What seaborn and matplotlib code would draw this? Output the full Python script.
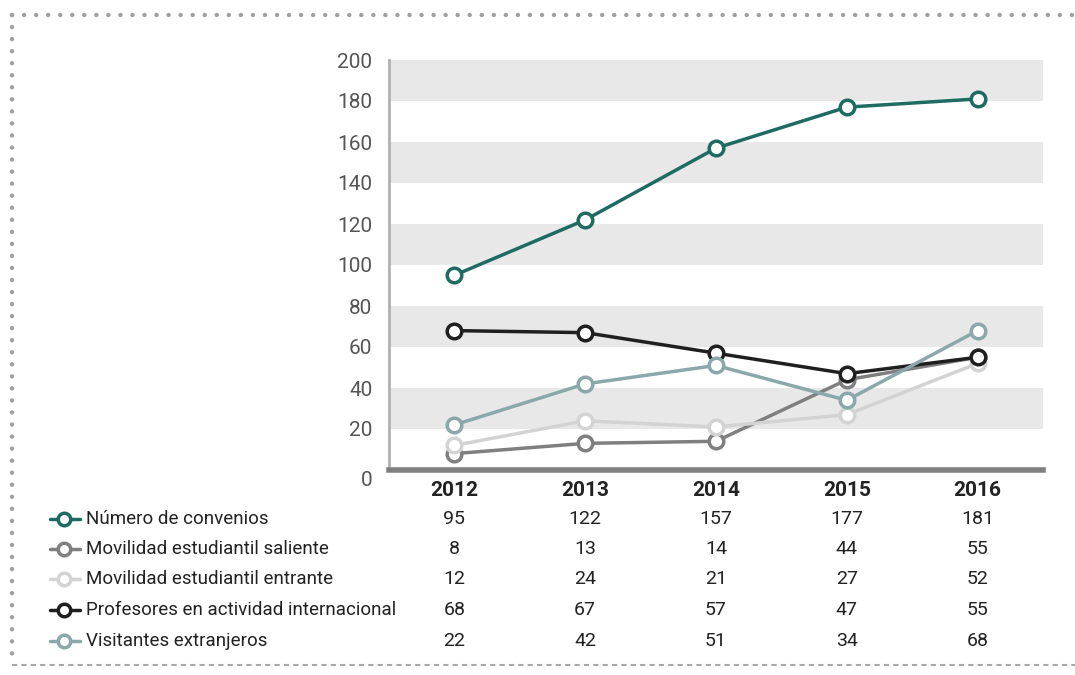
import numpy as np
import pandas as pd
import seaborn as sns
import matplotlib.pyplot as plt
from matplotlib.lines import Line2D
from matplotlib import transforms

years = ['2012', '2013', '2014', '2015', '2016']
series = ['Número de convenios', 'Movilidad estudiantil saliente',
          'Movilidad estudiantil entrante', 'Profesores en actividad internacional',
          'Visitantes extranjeros']
convenios = [95, 122, 157, 177, 181]
saliente = [8, 13, 14, 44, 55]
entrante = [12, 24, 21, 27, 52]
profesores = [68, 67, 57, 47, 55]
visitantes = [22, 42, 51, 34, 68]
colors = ['#1e6b62', '#7f7f7f', '#d3d3d3', '#1f1f1f', '#8aa8aa']

values = [convenios, saliente, entrante, profesores, visitantes]
df = pd.DataFrame({
    'pos': np.tile(np.arange(len(years)), len(series)),
    'valor': np.concatenate(values),
    'serie': np.repeat(series, len(years)),
})

sns.set_theme(style='white')
plt.rcParams['font.family'] = ['Roboto', 'DejaVu Sans']

fig = plt.figure(figsize=(10.75, 6.75), dpi=100)
ax = fig.add_axes([389 / 1075, 205 / 675, 654 / 1075, 410 / 675])

# gray bands
for lo in range(20, 200, 40):
    ax.axhspan(lo, lo + 20, color='#e8e8e8', zorder=0, lw=0)

sns.lineplot(data=df, x='pos', y='valor', hue='serie', hue_order=series,
             palette=colors, marker='o', markersize=10.5, markerfacecolor='white',
             markeredgewidth=2.5, linewidth=2.5, legend=False, ax=ax)
for line, c in zip(ax.get_lines(), colors):
    line.set_markeredgecolor(c)

ax.set_xlim(-0.5, 4.5)
ax.set_ylim(0, 200)
ax.set_yticks(range(0, 201, 20))
ax.set_yticklabels([str(v) for v in range(0, 201, 20)])
ax.set_xticks(range(len(years)))
ax.set_xticklabels(years, fontweight='bold', fontsize=15, color='#222222')
ax.tick_params(axis='y', labelsize=15, labelcolor='#555555', length=0, pad=12)
ax.tick_params(axis='x', length=0, pad=8)
ax.set_xlabel('')
ax.set_ylabel('')
# the "0" label sits a little below the axis line
zero_lbl = ax.get_yticklabels()[0]
zero_lbl.set_transform(zero_lbl.get_transform() +
                       transforms.ScaledTranslation(0, -8 / 100, fig.dpi_scale_trans))
for s in ['top', 'right']:
    ax.spines[s].set_visible(False)
ax.spines['left'].set_color('#b0b0b0')
ax.spines['left'].set_linewidth(2)
ax.spines['bottom'].set_color('#808080')
ax.spines['bottom'].set_linewidth(4)

# data table below the chart
trans = transforms.blended_transform_factory(ax.transData, fig.transFigure)
row_y = [519, 549, 579, 610, 641]
for name, vals, c, y in zip(series, values, colors, row_y):
    yf = 1 - y / 675
    fig.add_artist(Line2D([50 / 1075, 80 / 1075], [yf, yf], color=c, lw=2.5,
                          transform=fig.transFigure))
    fig.add_artist(Line2D([64 / 1075], [yf], color=c, marker='o', markersize=9,
                          markerfacecolor='white', markeredgewidth=2.5,
                          transform=fig.transFigure))
    fig.text(86 / 1075, yf, name, fontsize=13.5, color='#222222', va='center', ha='left')
    for i, v in enumerate(vals):
        ax.text(i, yf, str(v), transform=trans, fontsize=14, color='#222222',
                ha='center', va='center')

# dotted frame
fig.add_artist(Line2D([12 / 1075, 1], [1 - 15 / 675, 1 - 15 / 675], color='#a0a0a0',
                      lw=3.2, linestyle=(0, (0.01, 2.7)), dash_capstyle='round',
                      transform=fig.transFigure))
fig.add_artist(Line2D([12 / 1075, 12 / 1075], [1 - 15 / 675, 1 - 665 / 675],
                      color='#a0a0a0', lw=3.2, linestyle=(0, (0.01, 2.7)),
                      dash_capstyle='round', transform=fig.transFigure))
fig.add_artist(Line2D([12 / 1075, 1], [1 - 665 / 675, 1 - 665 / 675], color='#a8a8a8',
                      lw=1.5, linestyle=(0, (2.5, 2)), transform=fig.transFigure))

fig.savefig('out.png', dpi=100)
